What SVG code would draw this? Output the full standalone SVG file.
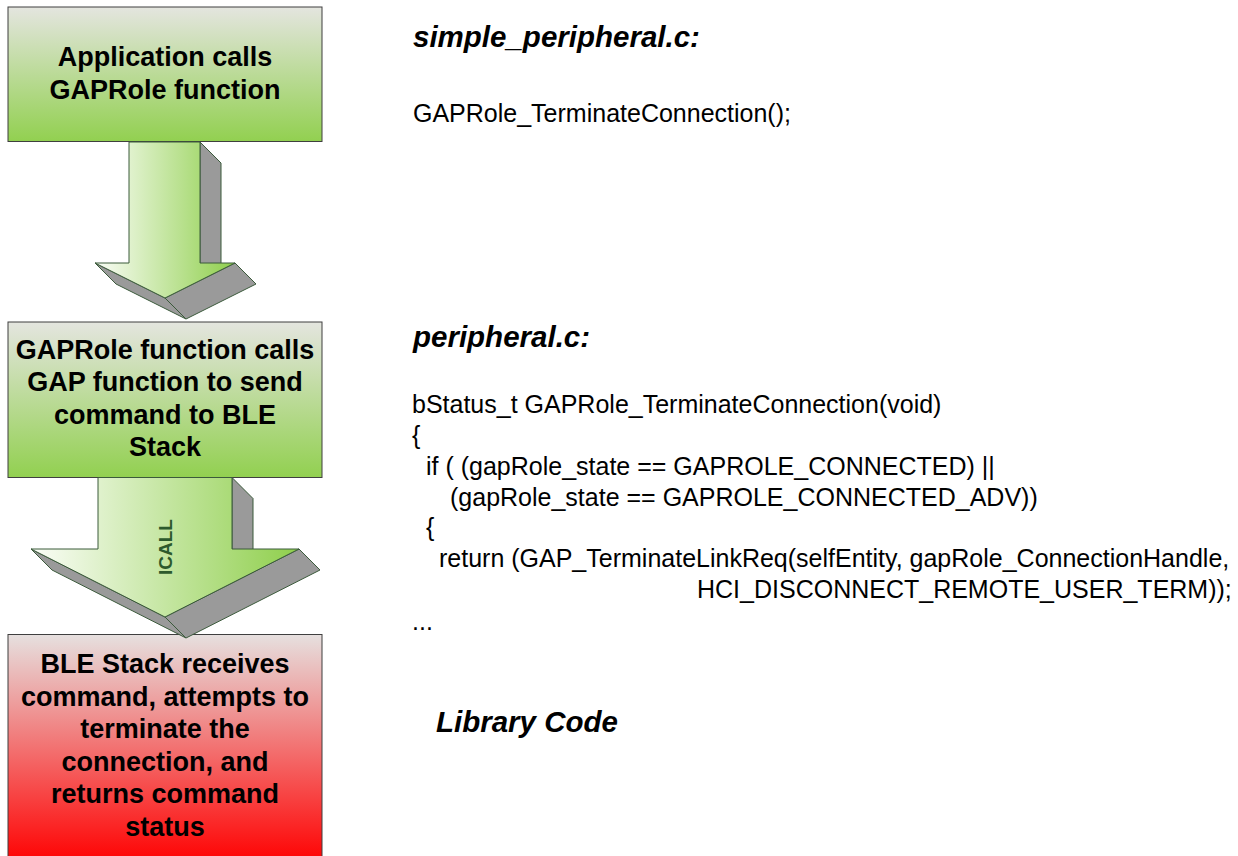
<svg xmlns="http://www.w3.org/2000/svg" width="1238" height="856" viewBox="0 0 1238 856">
  <defs>
    <linearGradient id="gGreenBox" x1="0" y1="0" x2="0" y2="1">
      <stop offset="0" stop-color="#e4e5df"/>
      <stop offset="1" stop-color="#92d050"/>
    </linearGradient>
    <linearGradient id="gRedBox" x1="0" y1="0" x2="0" y2="1">
      <stop offset="0" stop-color="#e6e0df"/>
      <stop offset="1" stop-color="#ff0000"/>
    </linearGradient>
    <linearGradient id="gArrow" x1="0" y1="0" x2="1" y2="0">
      <stop offset="0" stop-color="#fbfdf8"/>
      <stop offset="1" stop-color="#8fcf4c"/>
    </linearGradient>
  </defs>
  <style>
    .box { stroke: #3f3f3f; stroke-width: 1; }
    .boxtxt { font-family: "Liberation Sans", Arial, sans-serif; font-weight: bold; font-size: 27px; fill: #000; text-anchor: middle; }
    .shade { fill: #9a9a9a; stroke: #3b5a3b; stroke-width: 1; stroke-linejoin: round; }
    .front { fill: url(#gArrow); stroke: #3b5a3b; stroke-width: 1; stroke-linejoin: round; }
    .head { font-family: "Liberation Sans", Arial, sans-serif; font-weight: bold; font-style: italic; font-size: 29.5px; fill: #000; }
    .code { font-family: "Liberation Sans", Arial, sans-serif; font-size: 25px; fill: #000; }
    .lbl { font-family: "Liberation Sans", Arial, sans-serif; font-weight: bold; font-size: 19px; fill: #2d5a2d; text-anchor: middle; }
  </style>

  <rect width="1238" height="856" fill="#ffffff"/>

  <g id="box1">
    <rect class="box" x="8" y="7" width="314" height="134.5" fill="url(#gGreenBox)"/>
    <text class="boxtxt" x="165" y="66">Application calls</text>
    <text class="boxtxt" x="165" y="99">GAPRole function</text>
  </g>

  <g id="box2">
    <rect class="box" x="8" y="322" width="314" height="155.5" fill="url(#gGreenBox)"/>
    <text class="boxtxt" x="165" y="358.5">GAPRole function calls</text>
    <text class="boxtxt" x="165" y="391">GAP function to send</text>
    <text class="boxtxt" x="165" y="423.5">command to BLE</text>
    <text class="boxtxt" x="165" y="456">Stack</text>
  </g>

  <g id="box3">
    <rect class="box" x="8" y="634.5" width="314" height="230" fill="url(#gRedBox)"/>
    <text class="boxtxt" x="165" y="673">BLE Stack receives</text>
    <text class="boxtxt" x="165" y="705.5">command, attempts to</text>
    <text class="boxtxt" x="165" y="738">terminate the</text>
    <text class="boxtxt" x="165" y="770.5">connection, and</text>
    <text class="boxtxt" x="165" y="803">returns command</text>
    <text class="boxtxt" x="165" y="835.5">status</text>
  </g>

  <g id="connectors">
    <g id="arrow1">
      <polygon class="shade" points="200,142 221,163 221,284 200,263"/>
      <polygon class="shade" points="95,263 165,298 186,319 116,284"/>
      <polygon class="shade" points="235,263 165,298 186,319 256,284"/>
      <polygon class="front" points="129,142 200,142 200,263 235,263 165,298 95,263 129,263"/>
    </g>
    <g id="arrow2">
      <polygon class="shade" points="232,477.5 253,498.5 253,570 232,549"/>
      <polygon class="shade" points="31,549 165,617 186,638 52,570"/>
      <polygon class="shade" points="299,549 165,617 186,638 320,570"/>
      <polygon class="front" points="98,477.5 232,477.5 232,549 299,549 165,617 31,549 98,549"/>
      <text class="lbl" transform="translate(171.5,547) rotate(-90)">ICALL</text>
    </g>
  </g>

  <g id="app-code">
    <text class="head" x="413" y="47">simple_peripheral.c:</text>
    <text class="code" x="413" y="121.5">GAPRole_TerminateConnection();</text>
  </g>

  <g id="profile-code">
    <text class="head" x="413" y="347">peripheral.c:</text>
    <text class="code" x="412" y="413">bStatus_t GAPRole_TerminateConnection(void)</text>
    <text class="code" x="412" y="444">{</text>
    <text class="code" x="426" y="475">if ( (gapRole_state == GAPROLE_CONNECTED) ||</text>
    <text class="code" x="450" y="506">(gapRole_state == GAPROLE_CONNECTED_ADV))</text>
    <text class="code" x="426" y="536">{</text>
    <text class="code" x="439" y="567">return (GAP_TerminateLinkReq(selfEntity, gapRole_ConnectionHandle,</text>
    <text class="code" x="697" y="597.5">HCI_DISCONNECT_REMOTE_USER_TERM));</text>
    <text class="code" x="412" y="630">...</text>
  </g>

  <g id="library-code">
    <text class="head" x="436" y="732">Library Code</text>
  </g>
</svg>
